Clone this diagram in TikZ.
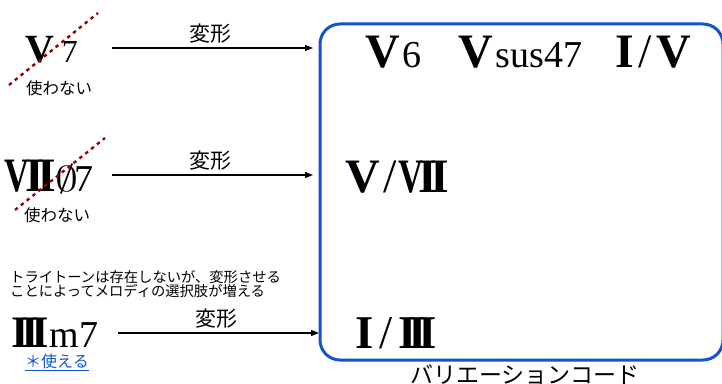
\documentclass[tikz,border=0pt]{standalone}
\usepackage{fontspec}
\usepackage{graphicx}
\setmainfont{Liberation Serif}
\newfontfamily\jp{Noto Sans CJK JP}
\usetikzlibrary{arrows.meta}
\definecolor{boxblue}{HTML}{1155CC}
\definecolor{crossred}{HTML}{990000}
\newcommand\fsz[1]{\fontsize{#1}{#1}\selectfont}
\newcommand\RV[1]{{\fsz{#1}\bfseries V}}
\newcommand\RI[1]{{\fsz{#1}\bfseries I}}
\newcommand\RVII[1]{{\fsz{#1}\bfseries\scalebox{0.72}[1]{V}\kern-4pt I\kern-7pt I}}
\newcommand\RIII[1]{{\fsz{#1}\bfseries I\kern-8pt I\kern-8pt I}}
\begin{document}
\begin{tikzpicture}[x=1pt,y=1pt,
  chord/.style={inner sep=0pt,outer sep=0pt,anchor=base west},
  arr/.style={line width=1.2pt,-{Triangle[length=8pt,width=6pt]}},
  cross/.style={line width=2.4pt,crossred,dash pattern=on 3.5pt off 4pt},
  jptext/.style={inner sep=0pt,font=\jp},
  vbox/.style={line width=3pt,boxblue,rounded corners=20pt}]
\useasboundingbox (0,0) rectangle (722,383);
\clip (0,0) rectangle (722,383);

% left chords
\node[chord] (v7) at (25,320) {\RV{40}\kern8pt{\fsz{32}7}};
\node[jptext,font=\jp\fsz{16.5}] (nu1) at (59,295) {使わない};
\coordinate (c1a) at (9,298);
\coordinate (c1b) at (98,370);
\draw[cross] (c1a) -- (c1b);

\node[chord] (v7b) at (5,191) {\RVII{48}\kern-1pt\scalebox{4.6}[3.6]{$\emptyset$}\kern-4pt{\fsz{38}7}};
\node[jptext,font=\jp\fsz{16.5}] (nu2) at (57,168) {使わない};
\coordinate (c2a) at (15,173);
\coordinate (c2b) at (105,245);
\draw[cross] (c2a) -- (c2b);

\node[jptext,font=\jp\fsz{14.3},anchor=base west] (tt1) at (10,101) {トライトーンは存在しないが、変形させる};
\node[jptext,font=\jp\fsz{14.3},anchor=base west] (tt2) at (10,87) {ことによってメロディの選択肢が増える};

\node[chord] (iii) at (12,36) {\RIII{45}\kern1pt{\fsz{38}m7}};
\node[jptext,font=\jp\fsz{16},text=boxblue] (use) at (57,21) {\underline{＊使える}};

% arrows
\coordinate (a1s) at (112,335);
\coordinate (a1e) at (313,335);
\draw[arr] (a1s) -- (a1e);
\node[jptext,font=\jp\fsz{21}] (l1) at (210,349) {変形};

\coordinate (a2s) at (112,208);
\coordinate (a2e) at (313,208);
\draw[arr] (a2s) -- (a2e);
\node[jptext,font=\jp\fsz{21}] (l2) at (210,222) {変形};

\coordinate (a3s) at (118,50);
\coordinate (a3e) at (319,50);
\draw[arr] (a3s) -- (a3e);
\node[jptext,font=\jp\fsz{21}] (l3) at (216,64) {変形};

% box
\draw[vbox] (320,23) rectangle (723,359);
\node[chord] (bv6) at (365,315) {\RV{48}\kern3pt{\fsz{38}6}};
\node[chord] (bvsus) at (458,315) {\RV{48}\kern3pt{\fsz{38}sus47}};
\node[chord] (biv) at (615,315) {\RI{48}\kern5pt{\fsz{48}/}\kern4pt\RV{48}};
\node[chord] (bvvii) at (345,190) {\RV{48}\kern4pt{\fsz{48}/}\kern1pt\RVII{48}};
\node[chord] (biiii) at (355,35) {\RI{47}\kern6pt{\fsz{47}/}\kern6pt\RIII{47}};
\node[jptext,font=\jp\fsz{23}] (var) at (525,8) {バリエーションコード};
\end{tikzpicture}
\end{document}
